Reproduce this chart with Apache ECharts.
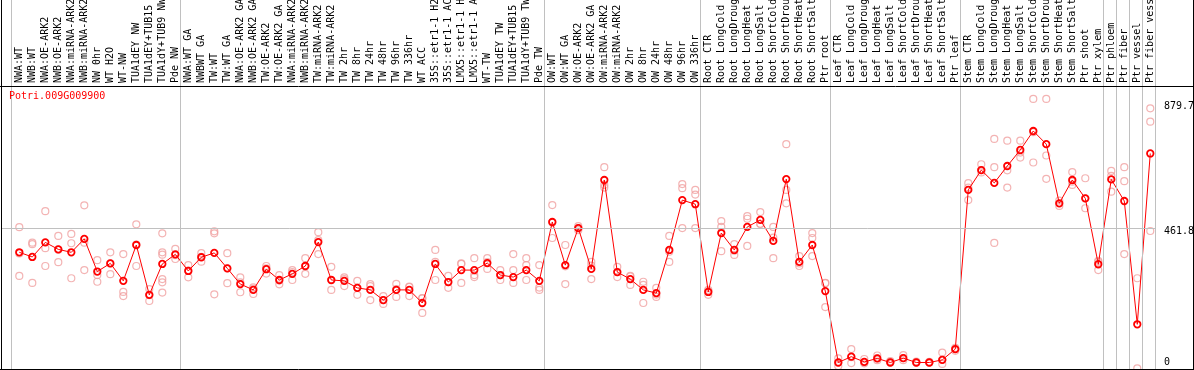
<!DOCTYPE html>
<html>
<head>
<meta charset="utf-8">
<script src="https://cdn.jsdelivr.net/npm/echarts@6/dist/echarts.min.js"></script>
<style>
  html, body { margin: 0; padding: 0; background: #fff; }
  #c { width: 1194px; height: 370px; }
</style>
</head>
<body>
<div id="c"></div>
<script>
const titleText = 'Potri.009G009900';

const categories = [
  'NWA:WT', 'NWB:WT', 'NWA:OE-ARK2', 'NWB:OE-ARK2', 'NWA:miRNA-ARK2', 'NWB:miRNA-ARK2',
  'NW 0hr', 'WT H2O', 'WT-NW', 'TUA1dEY NW', 'TUA1dEY+TUB15 NW', 'TUA1dY+TUB9 NW', 'Pde NW',
  'NWA:WT GA', 'NWBWT GA', 'TW:WT', 'TW:WT GA', 'NWA:OE-ARK2 GA', 'NWB:OE-ARK2 GA',
  'TW:OE-ARK2', 'TW:OE-ARK2 GA', 'NWA:miRNA-ARK2', 'NWB:miRNA-ARK2', 'TW:miRNA-ARK2',
  'TW:miRNA-ARK2', 'TW 2hr', 'TW 8hr', 'TW 24hr', 'TW 48hr', 'TW 96hr', 'TW 336hr',
  'WT ACC', '35S::etr1-1 H2O', '35S::etr1-1 ACC', 'LMX5::etr1-1 H2O', 'LMX5::etr1-1 ACC',
  'WT-TW', 'TUA1dEY TW', 'TUA1dEY+TUB15 TW', 'TUA1dY+TUB9 TW', 'Pde TW',
  'OW:WT', 'OW:WT GA', 'OW:OE-ARK2', 'OW:OE-ARK2 GA', 'OW:miRNA-ARK2', 'OW:miRNA-ARK2',
  'OW 2hr', 'OW 8hr', 'OW 24hr', 'OW 48hr', 'OW 96hr', 'OW 336hr',
  'Root CTR', 'Root LongCold', 'Root LongDrought', 'Root LongHeat', 'Root LongSalt',
  'Root ShortCold', 'Root ShortDrought', 'Root ShortHeat', 'Root ShortSalt', 'Ptr root',
  'Leaf CTR', 'Leaf LongCold', 'Leaf LongDrought', 'Leaf LongHeat', 'Leaf LongSalt',
  'Leaf ShortCold', 'Leaf ShortDrought', 'Leaf ShortHeat', 'Leaf ShortSalt', 'Ptr leaf',
  'Stem CTR', 'Stem LongCold', 'Stem LongDrought', 'Stem LongHeat', 'Stem LongSalt',
  'Stem ShortCold', 'Stem ShortDrought', 'Stem ShortHeat', 'Stem ShortSalt', 'Ptr shoot',
  'Ptr xylem', 'Ptr phloem', 'Ptr fiber', 'Ptr vessel', 'Ptr fiber vessel'
];

const meanValues = [
  378, 362, 412, 388, 378, 424, 312, 340, 280, 403, 232, 338, 371,
  314, 361, 376, 323, 269, 249, 320, 283, 304, 331, 413, 283, 280, 256, 249, 214, 249, 249,
  204, 338, 276, 317, 317, 341, 300, 293, 317, 280,
  482, 334, 461, 321, 626, 310, 286, 249, 238, 386, 557, 543,
  242, 444, 386, 465, 489, 417, 629, 345, 403, 245,
  0, 20, 2, 14, 0, 15, 0, 0, 9, 46,
  592, 660, 616, 674, 729, 794, 749, 546, 626, 563,
  337, 628, 554, 131, 717
];

const replicateValues = [
  [464, 297, 374], [411, 406, 273], [519, 392, 331], [434, 344, 387], [441, 409, 289],
  [539, 317, 411], [351, 300, 277], [378, 303, 340], [372, 242, 228], [474, 331, 404],
  [252, 211, 231], [443, 378, 370, 286, 275, 240], [390, 355, 368],
  [334, 292, 315], [375, 346, 362], [443, 234, 450], [375, 272, 323], [292, 241, 275],
  [258, 235, 253], [331, 323, 305], [300, 268, 281], [317, 283, 310], [358, 304, 331],
  [447, 372, 420], [328, 249, 283], [286, 262, 292], [280, 232, 256], [269, 214, 262],
  [228, 201, 214], [252, 225, 270], [259, 228, 260],
  [221, 170, 220], [386, 283, 345], [297, 256, 276], [338, 273, 340], [358, 300, 293],
  [358, 321, 344], [317, 283, 300], [372, 317, 273], [358, 334, 283], [334, 249, 257],
  [540, 427, 480], [403, 269, 330], [468, 454, 461], [345, 286, 332], [670, 609, 600],
  [328, 293, 310], [297, 266, 295], [266, 204, 277], [256, 225, 233], [434, 345, 380],
  [612, 461, 598], [592, 461, 576],
  [249, 232, 245], [485, 382, 465], [406, 369, 383], [502, 400, 493], [516, 475, 476],
  [465, 358, 428], [749, 592, 546], [365, 331, 340], [444, 427, 365], [273, 190, 272],
  [14, -12, 0], [46, -2, 18], [12, 0, -3], [24, 8, 14], [5, 0, 2],
  [25, 8, 15], [3, 0, 0], [2, 0, 0], [34, -5, 9], [50, 40, 46],
  [615, 557, 600], [680, 652, 660], [767, 410, 670], [761, 659, 600], [761, 703, 720],
  [904, 686, 790], [904, 630, 710], [537, 555], [653, 609, 620], [632, 529, 563],
  [349, 317, 345], [657, 586, 640], [670, 622, 372], [289, -20], [872, 826, 451]
];

// category indexes at whose left boundary a grey separator is drawn
const separatorBoundaries = [0, 13, 41, 53, 63, 73, 84, 85, 86, 87, 88];
const yTickValues = [0, 461.8, 879.7];
const yTickLabels = ['0', '461.8', '879.7'];
const referenceLineValue = 461.8;

const monoFont = 'DejaVu Sans Mono';

const meanData = meanValues.map((v, i) => [i, v]);
const replicateData = [];
replicateValues.forEach((reps, i) => reps.forEach(v => replicateData.push([i, v])));

const chart = echarts.init(document.getElementById('c'), null, { renderer: 'canvas', width: 1194, height: 370 });

const option = {
  animation: false,
  backgroundColor: '#fff',
  title: {
    text: titleText, left: 9, top: 91, padding: 0,
    textStyle: { color: '#ff0000', fontSize: 10, fontFamily: monoFont, fontWeight: 'normal' }
  },
  grid: { left: 1, right: 38, top: 0, bottom: 1, containLabel: false, outerBoundsMode: 'none' },
  xAxis: {
    type: 'value', min: -1.408, max: 87.44, position: 'top', offset: -86,
    axisLine: { show: false }, axisTick: { show: false }, splitLine: { show: false },
    axisLabel: {
      customValues: categories.map((_, i) => i),
      formatter: v => categories[v] || '',
      rotate: 90, margin: 3, fontFamily: monoFont, fontSize: 10, color: '#000'
    }
  },
  yAxis: {
    type: 'value', min: -22.3, max: 1243.4, position: 'right',
    axisLine: { show: false }, axisTick: { show: false }, splitLine: { show: false },
    axisLabel: {
      customValues: yTickValues,
      formatter: v => {
        const idx = yTickValues.indexOf(v);
        const t = idx >= 0 ? yTickLabels[idx] : String(v);
        return v === referenceLineValue ? '{d|' + t + '}' : t;
      },
      margin: 8, fontFamily: monoFont, fontSize: 10, color: '#000',
      rich: { d: { fontFamily: monoFont, fontSize: 10, color: '#000', padding: [8, 0, 0, 0] } }
    }
  },
  series: [
    {
      type: 'scatter', name: 'replicates', data: replicateData,
      symbol: 'circle', symbolSize: 7, z: 2,
      itemStyle: { color: 'rgba(0,0,0,0)', borderColor: '#f0a0a0', borderWidth: 1.2 },
      markLine: {
        silent: true, symbol: ['none', 'none'], label: { show: false },
        lineStyle: { color: '#c0c0c0', width: 1, type: 'solid' },
        emphasis: { disabled: true },
        data: separatorBoundaries.map(k => ({ xAxis: k - 0.6 })).concat([{ yAxis: referenceLineValue }])
      }
    },
    {
      type: 'line', name: 'mean', data: meanData, z: 3,
      symbol: 'circle', symbolSize: 6.5, showAllSymbol: true,
      lineStyle: { color: '#ff0000', width: 1 },
      itemStyle: { color: 'rgba(0,0,0,0)', borderColor: '#ff0000', borderWidth: 1.8 }
    }
  ],
  graphic: [
    { type: 'line', z: 100, shape: { x1: 1.5, y1: 0, x2: 1.5, y2: 370 }, style: { stroke: '#000', lineWidth: 1 } },
    { type: 'line', z: 100, shape: { x1: 1193.5, y1: 0, x2: 1193.5, y2: 370 }, style: { stroke: '#000', lineWidth: 1 } },
    { type: 'line', z: 100, shape: { x1: 0, y1: 369.5, x2: 1194, y2: 369.5 }, style: { stroke: '#000', lineWidth: 1 } },
    { type: 'line', z: 100, shape: { x1: 0, y1: 86.5, x2: 1194, y2: 86.5 }, style: { stroke: '#000', lineWidth: 1 } }
  ]
};
chart.setOption(option);
</script>
</body>
</html>
